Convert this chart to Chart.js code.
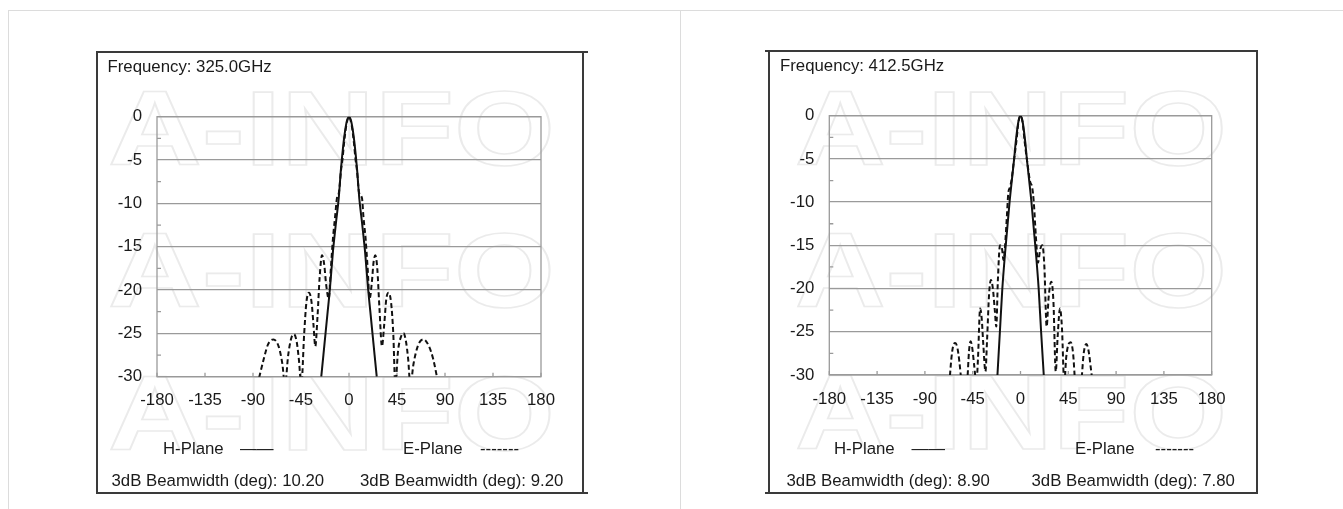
<!DOCTYPE html>
<html>
<head>
<meta charset="utf-8">
<script src="https://cdn.jsdelivr.net/npm/chart.js@4"></script>
<style>
  html, body { margin:0; padding:0; background:#fff; }
  body { width:1343px; height:509px; position:relative; overflow:hidden; font-family:"Liberation Sans", Arial, sans-serif; }
  .ln { position:absolute; background:#3a3a3a; }
  .pg { position:absolute; background:#dcdcdc; }
  .t { position:absolute; font-size:16.8px; line-height:1; color:#1a1a1a; white-space:nowrap; }
  canvas { position:absolute; }
</style>
</head>
<body>
<!-- page frame -->
<div class="pg" style="left:8px;top:10px;width:1335px;height:1px;"></div>
<div class="pg" style="left:8px;top:10px;width:1px;height:499px;"></div>
<div class="pg" style="left:680px;top:10px;width:1px;height:499px;"></div>

<canvas id="c1" width="487" height="442" style="left:97px;top:52px;"></canvas>
<canvas id="c2" width="488" height="442" style="left:769px;top:51px;"></canvas>

<!-- panel frames -->
<div class="ln" style="left:96px;top:51px;width:492px;height:2px;"></div>
<div class="ln" style="left:96px;top:492px;width:492px;height:2px;"></div>
<div class="ln" style="left:96px;top:51px;width:2px;height:443px;"></div>
<div class="ln" style="left:582px;top:51px;width:2px;height:443px;"></div>

<div class="ln" style="left:765px;top:50px;width:493px;height:2px;"></div>
<div class="ln" style="left:765px;top:492px;width:493px;height:2px;"></div>
<div class="ln" style="left:768px;top:50px;width:2px;height:444px;"></div>
<div class="ln" style="left:1256px;top:50px;width:2px;height:444px;"></div>

<!-- texts -->
<div class="t" style="left:107.5px;top:58.8px;">Frequency: 325.0GHz</div>
<div class="t" style="left:163px;top:440.8px;">H-Plane</div>
<div class="t" style="left:240px;top:440.8px;">——</div>
<div class="t" style="left:403px;top:440.8px;">E-Plane</div>
<div class="t" style="left:480px;top:440.8px;">-------</div>
<div class="t" style="left:111.5px;top:472.5px;">3dB Beamwidth (deg): 10.20</div>
<div class="t" style="left:360px;top:472.5px;">3dB Beamwidth (deg): 9.20</div>

<div class="t" style="left:780px;top:58.1px;">Frequency: 412.5GHz</div>
<div class="t" style="left:834px;top:440.8px;">H-Plane</div>
<div class="t" style="left:911.5px;top:440.8px;">——</div>
<div class="t" style="left:1075px;top:440.8px;">E-Plane</div>
<div class="t" style="left:1155px;top:440.8px;">-------</div>
<div class="t" style="left:786.5px;top:472.5px;">3dB Beamwidth (deg): 8.90</div>
<div class="t" style="left:1031.5px;top:472.5px;">3dB Beamwidth (deg): 7.80</div>

<script>
// ---------------- data ----------------
const xTickValues = [-180, -135, -90, -45, 0, 45, 90, 135, 180];
const yTickValues = [0, -5, -10, -15, -20, -25, -30];

// 325.0 GHz
const hAng325 = [-26,-24,-22,-20,-18,-15,-12,-9.7,-7.5,-5.1,-3.5,-2,0,2,3.5,5.1,7.5,9.7,12,15,18,20,22,24,26];
const hVal325 = [-30,-27.5,-25,-22.5,-20,-15.5,-12,-9.5,-6,-3,-1.5,-0.5,0,-0.5,-1.5,-3,-6,-9.5,-12,-15.5,-20,-22.5,-25,-27.5,-30];
const eAng325 = [-86,-80,-76,-71,-66,-62.5,-60,-57,-54,-51.5,-49,-47,-44.7,-42,-40,-37.5,-35,-33.3,-31.6,-29.5,
                 -27.5,-25.3,-23.3,-21.3,-19,-17,-15,-13,-11.3,-9.5,-7.5,-6,-4.6,-2.5,0,
                 2.5,4.6,6,7.5,9.5,12.2,13.5,15.5,17.5,19.3,21.5,23,24.7,26.5,28.5,30.9,33,35,37.1,39.5,
                 41.5,43.4,46,49,51.2,53.5,55.5,57.5,60.5,65,70,75,79,84];
const eVal325 = [-31,-28,-26.3,-25.7,-26.5,-28.5,-31,-27.5,-25.5,-25.1,-26,-28,-31,-25,-21.5,-20.3,-21.5,-24,-26.5,-23,
                 -18.5,-16,-17,-19.5,-21,-17.5,-14,-11.5,-9.4,-8.8,-6.2,-4.8,-3,-1,0,
                 -1,-3,-4.8,-6.2,-8.8,-9.4,-11.5,-14,-17.5,-21,-19,-16.8,-16,-17.5,-22,-26.5,-24,-21,-20.3,-21.5,
                 -25,-31,-27,-25.3,-25,-26,-28,-31,-28.5,-26.3,-25.7,-26.5,-28,-31];

// 412.5 GHz
const hAng412 = [-21.7,-19.4,-17.1,-13.9,-10.3,-6,-4.45,-2,0,2,4.45,6,10.3,13.9,17.1,19.4,21.9];
const hVal412 = [-30,-25,-20,-15,-10,-5,-3,-0.7,0,-0.7,-3,-5,-10,-15,-20,-25,-30];
const eAng412 = [-67,-65,-63.5,-61.5,-59.5,-57.5,-55.5,-53,-50,-48.5,-47,-45.5,-43.5,-41.5,-40,-38,-36.5,-35,-33,-31.5,
                 -29.5,-27.8,-26,-24.2,-22.8,-21.3,-19.3,-17.5,-16,-14.5,-13,-11.5,-10,-8.5,-6.5,-3.9,-2,0,
                 2,3.9,6.5,9,11,12.5,14.5,16.5,18.5,20.6,22.5,24.6,26.5,29,31,33.2,35,37.2,39,41.2,
                 43,45,47.2,49.5,51.5,54.5,57.5,59.5,62,64.5,66,68];
const eVal412 = [-31,-28,-26.7,-26.3,-26.8,-28.5,-31,-34,-30.5,-27.3,-26.1,-26.8,-29,-31,-28,-22.3,-23.5,-26.5,-29.6,-26,
                 -20.5,-19,-20,-22.5,-24.4,-19,-15,-15.3,-16.7,-15,-12,-9,-8.3,-7.5,-5.5,-3,-0.8,0,
                 -0.8,-3,-5.5,-7.6,-8.3,-10,-14,-17,-15.5,-15,-17.5,-24.4,-21,-19.2,-21.5,-29.6,-25.5,-22.3,-24.5,-31,
                 -28,-26.5,-26.2,-27.5,-31,-34,-30.5,-27.5,-26.4,-27.5,-29,-31];

// ---------------- helpers ----------------
const FONT = { family: '"Liberation Sans", Arial, sans-serif', size: 16.8 };
const pts = (xs, ys) => xs.map((x, i) => ({ x, y: ys[i] }));

const watermark = {
  id: 'watermark',
  beforeDraw(chart, args, opts) {
    const ctx = chart.ctx;
    ctx.save();
    ctx.font = 'bold 105px "Liberation Sans", Arial, sans-serif';
    ctx.strokeStyle = '#ebebeb';
    ctx.lineWidth = 1.6;
    const w = ctx.measureText('A-INFO').width;
    opts.rows.forEach(base => {
      ctx.save();
      ctx.translate(opts.left, base);
      ctx.scale(opts.width / w, 1);
      ctx.strokeText('A-INFO', 0, 0);
      ctx.restore();
    });
    ctx.restore();
  }
};

const frame = {
  id: 'frame',
  beforeDatasetsDraw(chart) {
    const { ctx, chartArea: a, scales } = chart;
    ctx.save();
    ctx.strokeStyle = '#9a9a9a';
    ctx.lineWidth = 1.3;
    ctx.strokeRect(a.left, a.top, a.right - a.left, a.bottom - a.top);
    ctx.beginPath();
    // x ticks pointing up from the bottom axis
    xTickValues.forEach(v => {
      const px = scales.x.getPixelForValue(v);
      ctx.moveTo(px, a.bottom);
      ctx.lineTo(px, a.bottom - 4);
    });
    // minor y ticks pointing right from the left axis
    for (let v = -2.5; v > -30; v -= 5) {
      const py = scales.y.getPixelForValue(v);
      ctx.moveTo(a.left, py);
      ctx.lineTo(a.left + 4, py);
    }
    ctx.stroke();
    ctx.restore();
  }
};

function makeChart(id, hA, hV, eA, eV, pad, wm) {
  return new Chart(document.getElementById(id), {
    type: 'line',
    data: {
      datasets: [
        { label: 'H-Plane', data: pts(hA, hV), borderColor: '#111', borderWidth: 2,
          pointRadius: 0, cubicInterpolationMode: 'monotone', fill: false },
        { label: 'E-Plane', data: pts(eA, eV), borderColor: '#111', borderWidth: 2, borderDash: [5, 3],
          pointRadius: 0, cubicInterpolationMode: 'monotone', fill: false }
      ]
    },
    options: {
      responsive: false,
      animation: false,
      layout: { padding: pad },
      plugins: { legend: { display: false }, tooltip: { enabled: false }, watermark: wm },
      scales: {
        x: {
          type: 'linear', min: -180, max: 180,
          afterBuildTicks: s => { s.ticks = xTickValues.map(v => ({ value: v })); },
          ticks: { font: FONT, color: '#1a1a1a', padding: 14, maxRotation: 0, autoSkip: false },
          grid: { display: false, drawTicks: false },
          border: { display: false },
          afterFit: s => { s.height = 30; }
        },
        y: {
          type: 'linear', min: -30, max: 0,
          afterBuildTicks: s => { s.ticks = yTickValues.map(v => ({ value: v })); },
          ticks: { font: FONT, color: '#1a1a1a', padding: 15 },
          grid: { color: '#9a9a9a', lineWidth: 1.3, drawTicks: false },
          border: { display: false },
          afterFit: s => { s.width = 60; }
        }
      }
    },
    plugins: [watermark, frame]
  });
}

makeChart('c1', hAng325, hVal325, eAng325, eVal325,
  { left: 0, top: 64.7, right: 43, bottom: 87.3 },
  { left: 11, width: 447, rows: [113, 255, 398] });
makeChart('c2', hAng412, hVal412, eAng412, eVal412,
  { left: 0.3, top: 64.7, right: 45.3, bottom: 88 },
  { left: 26, width: 432, rows: [114, 256, 398] });
</script>
</body>
</html>
